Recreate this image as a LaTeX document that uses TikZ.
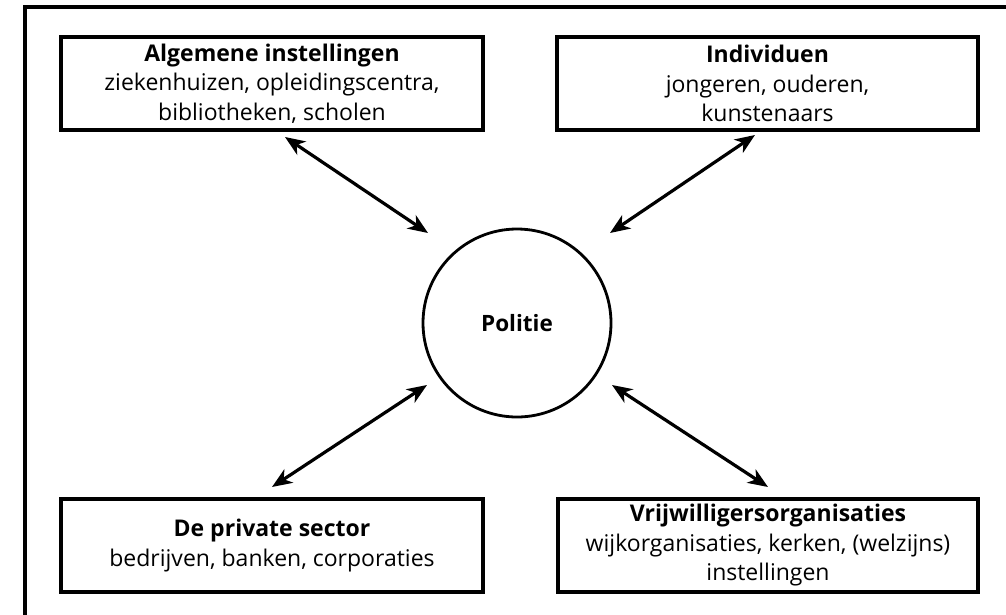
\documentclass[tikz,border=0pt]{standalone}
\usepackage{fontspec}
\setmainfont{Open Sans}
\usetikzlibrary{arrows.meta}
\begin{document}
\begin{tikzpicture}[x=1pt,y=-1pt,
  box/.style={draw=black,line width=3.2pt,minimum height=93pt,align=center,inner sep=0pt,
    font=\fontsize{23}{29.5}\selectfont},
  hub/.style={draw=black,circle,line width=2.8pt,minimum size=188pt,inner sep=0pt,
    font=\fontsize{22.5}{29.5}\selectfont\bfseries},
  link/.style={line width=3.2pt,{Stealth[length=20pt,width=16pt,inset=6pt]}-{Stealth[length=20pt,width=16pt,inset=6pt]}}]
\useasboundingbox (0,0) rectangle (1006,614);
\draw[line width=3.2pt] (25,620) -- (25,7) -- (1012,7);
\node[box,minimum width=422pt] (alg) at (272,83.5) {\textbf{Algemene instellingen}\\ziekenhuizen, opleidingscentra,\\bibliotheken, scholen};
\node[box,minimum width=421pt] (ind) at (767.5,83.5) {\textbf{Individuen}\\jongeren, ouderen,\\kunstenaars};
\node[box,minimum width=422pt] (priv) at (272,545.5) {\textbf{De private sector}\\bedrijven, banken, corporaties};
\node[box,minimum width=420pt] (vrij) at (768,545.5) {\textbf{Vrijwilligersorganisaties}\\wijkorganisaties, kerken, (welzijns)\\instellingen};
\node[hub] (pol) at (517,323) {Politie};
\coordinate (a1s) at (285,137);
\coordinate (a1e) at (428,233);
\coordinate (a2s) at (755,135);
\coordinate (a2e) at (610,233);
\coordinate (a3s) at (427,385);
\coordinate (a3e) at (272,487);
\coordinate (a4s) at (612,385);
\coordinate (a4e) at (768,487);
\draw[link] (a1s) -- (a1e);
\draw[link] (a2s) -- (a2e);
\draw[link] (a3s) -- (a3e);
\draw[link] (a4s) -- (a4e);
\end{tikzpicture}
\end{document}
